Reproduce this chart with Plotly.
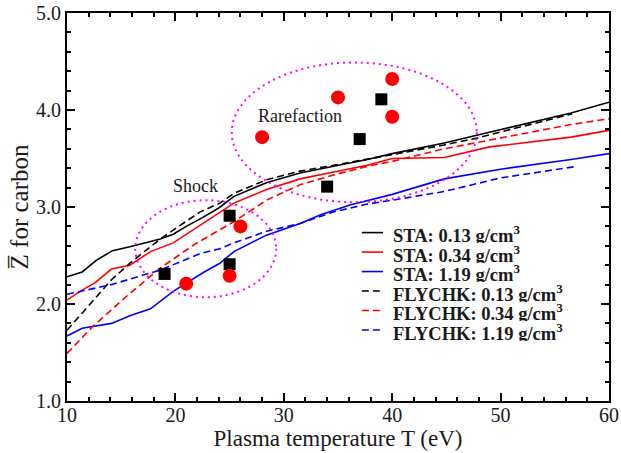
import plotly.graph_objects as go

# ---- data ----
t_sta_013 = [10, 11.4, 12.7, 14.2, 15.8, 17.7, 18.6, 19.8, 21, 22.5, 24, 25.4, 28.4, 31.5, 34.6, 37.7, 40, 44.8, 47.8, 52, 56.5, 60]
z_sta_013 = [2.28, 2.33, 2.45, 2.55, 2.59, 2.64, 2.67, 2.72, 2.80, 2.89, 2.99, 3.11, 3.25, 3.35, 3.42, 3.49, 3.55, 3.66, 3.74, 3.85, 3.97, 4.08]

t_sta_034 = [10, 11.2, 12.6, 14.1, 15.8, 17.7, 19.8, 22.5, 25.4, 28.4, 31.5, 34.6, 37.7, 40, 44.8, 49, 56.5, 60]
z_sta_034 = [2.04, 2.13, 2.22, 2.36, 2.40, 2.54, 2.63, 2.83, 3.04, 3.18, 3.29, 3.36, 3.43, 3.50, 3.51, 3.62, 3.72, 3.79]

t_sta_119 = [10, 11.4, 14.1, 15.8, 17.7, 19.8, 22.5, 24.1, 25.4, 28.4, 31.5, 33.4, 36.1, 40, 44.8, 50, 56.5, 60]
z_sta_119 = [1.67, 1.75, 1.80, 1.88, 1.95, 2.13, 2.32, 2.42, 2.54, 2.71, 2.83, 2.92, 3.02, 3.13, 3.29, 3.39, 3.49, 3.55]

t_fly_013 = [10, 12.4, 14.1, 15.8, 18.6, 20.7, 22.3, 24.1, 25.4, 28.4, 31.5, 34.6, 37.7, 40, 44.8, 47.8, 52, 56.6]
z_fly_013 = [1.73, 2.04, 2.25, 2.42, 2.67, 2.83, 2.95, 3.04, 3.14, 3.28, 3.37, 3.43, 3.49, 3.54, 3.64, 3.71, 3.83, 3.96]

t_fly_034 = [10, 12.4, 15.5, 18.6, 21.7, 24.1, 25.4, 28.4, 31.5, 34.6, 37.7, 40, 44.8, 49, 56.5, 60]
z_fly_034 = [1.49, 1.77, 2.08, 2.37, 2.61, 2.76, 2.85, 3.07, 3.23, 3.33, 3.42, 3.47, 3.60, 3.69, 3.85, 3.91]

t_fly_119 = [10, 14.1, 18.6, 22.3, 24.1, 25.4, 28.4, 31.5, 34.6, 37.7, 40, 44.8, 50, 57.1]
z_fly_119 = [2.10, 2.20, 2.35, 2.52, 2.57, 2.63, 2.75, 2.83, 2.95, 3.03, 3.07, 3.16, 3.30, 3.42]

sq_t = [19, 25, 25, 34, 37, 39]
sq_z = [2.31, 2.91, 2.41, 3.21, 3.70, 4.11]

circ_t = [21, 25, 26, 28, 35, 40, 40]
circ_z = [2.21, 2.29, 2.80, 3.72, 4.13, 4.32, 3.93]

shock_box = [16.3, 2.07, 29.3, 3.07]        # x0, y0, x1, y1
rare_box = [25.2, 3.05, 47.8, 4.49]

labels = ["STA: 0.13 g/cm<sup>3</sup>", "STA: 0.34 g/cm<sup>3</sup>", "STA: 1.19 g/cm<sup>3</sup>",
          "FLYCHK: 0.13 g/cm<sup>3</sup>", "FLYCHK: 0.34 g/cm<sup>3</sup>", "FLYCHK: 1.19 g/cm<sup>3</sup>"]

FONT = "Liberation Serif"
TXT = "#1a1a1a"
DASH = "7px,4px"

fig = go.Figure()
series = [
    (t_sta_013, z_sta_013, "black", "solid"),
    (t_sta_034, z_sta_034, "red", "solid"),
    (t_sta_119, z_sta_119, "blue", "solid"),
    (t_fly_013, z_fly_013, "black", DASH),
    (t_fly_034, z_fly_034, "red", DASH),
    (t_fly_119, z_fly_119, "blue", DASH),
]
for (t, z, c, d), lab in zip(series, labels):
    fig.add_trace(go.Scatter(x=t, y=z, mode="lines", name=lab, showlegend=False,
                             line=dict(color=c, width=1.6, dash=d)))

fig.add_trace(go.Scatter(x=sq_t, y=sq_z, mode="markers", showlegend=False,
                         marker=dict(symbol="square", size=12, color="black")))
fig.add_trace(go.Scatter(x=circ_t, y=circ_z, mode="markers", showlegend=False,
                         marker=dict(symbol="circle", size=14, color="red")))

for b in (shock_box, rare_box):
    fig.add_shape(type="circle", xref="x", yref="y", x0=b[0], y0=b[1], x1=b[2], y1=b[3],
                  line=dict(color="#FF00FF", width=2, dash="2px,4px"))

fig.add_annotation(x=21.85, y=3.22, text="Shock", showarrow=False,
                   font=dict(family=FONT, size=18, color=TXT))
fig.add_annotation(x=31.45, y=3.94, text="Rarefaction", showarrow=False,
                   font=dict(family=FONT, size=18, color=TXT))

# ---- legend (drawn as text + short sample lines) ----
leg_top = 0.434      # paper y of first row
leg_step = 0.0502    # paper y step between rows
for i, ((t, z, c, d), lab) in enumerate(zip(series, labels)):
    yy = leg_top - i * leg_step
    fig.add_shape(type="line", xref="paper", yref="paper", x0=0.544, x1=0.583, y0=yy, y1=yy,
                  line=dict(color=c, width=1.6, dash=d))
    fig.add_annotation(xref="paper", yref="paper", x=0.597, y=yy - 0.004, xanchor="left",
                       yanchor="middle", text="<b>" + lab + "</b>", showarrow=False,
                       height=18, valign="middle",
                       font=dict(family=FONT, size=18.5, color=TXT))

axis_common = dict(showline=True, linecolor="black", linewidth=2, mirror="ticks",
                   ticks="inside", ticklen=8, tickwidth=1.5, tickcolor="black",
                   showgrid=False, zeroline=False, automargin=False,
                   tickfont=dict(family=FONT, size=20, color=TXT))

fig.update_xaxes(range=[10, 60], dtick=10, tick0=10, ticklabelstandoff=-5,
                 minor=dict(dtick=2, ticks="inside", ticklen=4, tickcolor="black", tickwidth=1.5),
                 title=dict(text="Plasma temperature T (eV)", standoff=4,
                            font=dict(family=FONT, size=23, color=TXT)),
                 **axis_common)
fig.update_yaxes(range=[1, 5], dtick=1, tick0=1, tickformat=".1f",
                 minor=dict(dtick=0.2, ticks="inside", ticklen=4, tickcolor="black", tickwidth=1.5),
                 title=dict(text="Z\u0305 for carbon", standoff=0,
                            font=dict(family=FONT, size=25, color=TXT)),
                 **axis_common)

fig.update_layout(
    width=621, height=453,
    margin=dict(l=67, r=12, t=13, b=52),
    plot_bgcolor="white", paper_bgcolor="white",
    showlegend=False,
)

fig.write_html("out.html")
